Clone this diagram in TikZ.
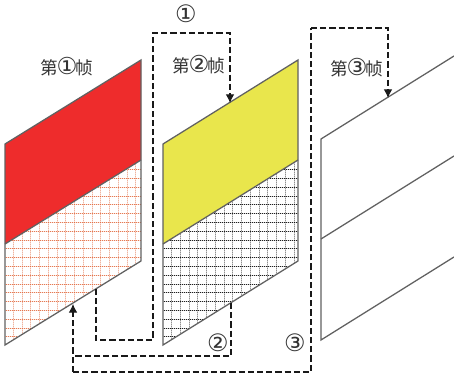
\documentclass[tikz,border=0pt]{standalone}
\usepackage{fontspec}
\setmainfont{Noto Sans CJK SC}
\newfontfamily\circfont{DejaVu Sans}
\usetikzlibrary{arrows.meta}
\definecolor{fred}{RGB}{238,44,44}
\definecolor{fyellow}{RGB}{233,230,76}
\definecolor{gridor}{RGB}{226,96,50}
\newcommand{\lc}[1]{\hspace{-1.2pt}{\circfont\fontsize{17.5}{18}\selectfont #1}\hspace{-1.2pt}}
\tikzset{
  framebox/.style={draw=black!62,line width=0.95pt,line join=miter},
  flow/.style={draw=black!90,line width=0.8pt,dash pattern=on 4.6pt off 2.3pt},
  flowarrow/.style={flow,-{Latex[length=6.5pt,width=6.5pt,sharp]}},
  lab/.style={inner sep=0pt,font=\fontsize{13.2}{14}\selectfont,text=black!80},
  numlab/.style={inner sep=0pt,font=\circfont\fontsize{18}{18}\selectfont,text=black!80},
  gridh/.style={line width=0.75pt,dash pattern=on 0.75pt off 0.75pt},
  gridv/.style={line width=0.75pt,opacity=0.18}
}
\begin{document}
\begin{tikzpicture}[x=0.75pt,y=-0.75pt]
\useasboundingbox (0,0) rectangle (454,377);
\fill[white] (0,0) rectangle (454,377);
% frame 1
\fill[fred] (5,144) -- (141,60) -- (141,160) -- (5,244) -- cycle;
\begin{scope}
\clip (5,244) -- (141,160) -- (141,261) -- (5,345) -- cycle;
\foreach \k in {0,...,21} {\pgfmathsetmacro{\yy}{floor(160.8+8.8*\k)+0.5}
  \draw[gridv,gridor] (0,\yy) -- (145,\yy);
  \draw[gridh,gridor,opacity=0.8] (0,\yy) -- (145,\yy);}
\foreach \k in {0,...,15} {\pgfmathsetmacro{\xx}{floor(13.3+8.75*\k)+0.5}
  \draw[gridv,gridor] (\xx,150) -- (\xx,350);
  \draw[gridh,gridor,opacity=0.35] (\xx,150) -- (\xx,350);}
\end{scope}
\draw[framebox] (5,144) -- (141,60) -- (141,160) -- (141,261) -- (5,345) -- (5,244) -- cycle;
\draw[framebox] (5,244) -- (141,160);
% frame 2
\fill[fyellow] (163,144) -- (298,60) -- (298,160) -- (163,244) -- cycle;
\begin{scope}
\clip (163,244) -- (298,160) -- (298,261) -- (163,345) -- cycle;
\foreach \k in {0,...,21} {\pgfmathsetmacro{\yy}{floor(160.8+8.8*\k)+0.5}
  \draw[gridv,black] (160,\yy) -- (300,\yy);
  \draw[gridh,black,opacity=0.85] (160,\yy) -- (300,\yy);}
\foreach \k in {0,...,15} {\pgfmathsetmacro{\xx}{floor(171.7+8.75*\k)+0.5}
  \draw[gridv,black] (\xx,150) -- (\xx,350);
  \draw[gridh,black,opacity=0.3] (\xx,150) -- (\xx,350);}
\end{scope}
\draw[framebox] (163,144) -- (298,60) -- (298,160) -- (298,261) -- (163,345) -- (163,244) -- cycle;
\draw[framebox] (163,244) -- (298,160);
% frame 3
\draw[framebox] (454,56) -- (321,139) -- (321,340) -- (454,257);
\draw[framebox] (321,239) -- (454,156);
% anchors
\coordinate (s1) at (96,289);
\coordinate (a1) at (96,340);
\coordinate (b1) at (153,340);
\coordinate (c1) at (153,33);
\coordinate (d1) at (230,33);
\coordinate (e1) at (230,103);
\coordinate (s2) at (231,303);
\coordinate (a2) at (231,356);
\coordinate (b2) at (73,356);
\coordinate (e2) at (73,304);
\coordinate (s3) at (73,372);
\coordinate (a3) at (311,372);
\coordinate (b3) at (311,28);
\coordinate (c3) at (388,28);
\coordinate (e3) at (388,98);
\draw[flowarrow] (s1) -- (a1) -- (b1) -- (c1) -- (d1) -- (e1);
\draw[flow] (s2) -- (a2) -- (b2);
\draw[flow] (s3) -- (a3) -- (b3);
\draw[flowarrow] (b3) -- (c3) -- (e3);
\draw[flowarrow] (s3) -- (e2);
% labels
\node[lab] (l1) at (67,67) {第\lc{①}帧};
\node[lab] (l2) at (199,65) {第\lc{②}帧};
\node[lab] (l3) at (357,68) {第\lc{③}帧};
\node[numlab] (n1) at (186,14) {①};
\node[numlab] (n2) at (218,343) {②};
\node[numlab] (n3) at (295,343) {③};
\end{tikzpicture}
\end{document}
